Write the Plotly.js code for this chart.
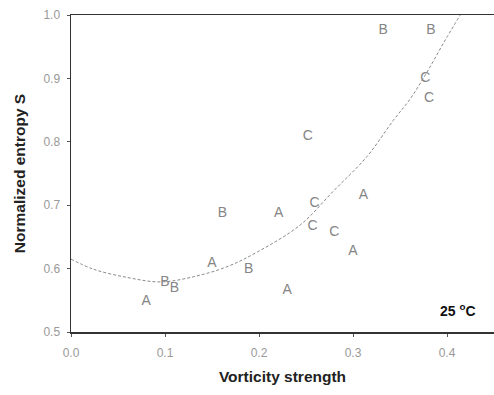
<!DOCTYPE html>
<html>
<head>
<meta charset="utf-8">
<script src="https://cdn.plot.ly/plotly-3.0.1.min.js"></script>
<style>html,body{margin:0;padding:0;background:#fff}#chart{width:494px;height:395px}</style>
</head>
<body>
<div id="chart"></div>
<script>
// Data points (letter labels)
const pointX = [0.080, 0.100, 0.110, 0.150, 0.161, 0.189, 0.221, 0.230, 0.252, 0.259, 0.257, 0.280, 0.300, 0.311, 0.332, 0.383, 0.377, 0.381];
const pointY = [0.548, 0.578, 0.569, 0.608, 0.687, 0.598, 0.687, 0.566, 0.808, 0.703, 0.667, 0.657, 0.627, 0.716, 0.976, 0.976, 0.900, 0.869];
const pointLabel = ["A", "B", "B", "A", "B", "B", "A", "A", "C", "C", "C", "C", "A", "A", "B", "B", "C", "C"];

// Fitted curve
const curveX = [0.000, 0.024, 0.060, 0.095, 0.130, 0.166, 0.198, 0.244, 0.279, 0.315, 0.343, 0.361, 0.378, 0.396, 0.414];
const curveY = [0.615, 0.599, 0.586, 0.579, 0.587, 0.603, 0.626, 0.669, 0.722, 0.777, 0.834, 0.868, 0.908, 0.955, 1.000];

// Axis ticks
const xTickVals = [0.0, 0.1, 0.2, 0.3, 0.4];
const xTickText = ["0.0", "0.1", "0.2", "0.3", "0.4"];
const yTickVals = [0.5, 0.6, 0.7, 0.8, 0.9, 1.0];
const yTickText = ["0.5", "0.6", "0.7", "0.8", "0.9", "1.0"];

const traces = [
  {
    x: curveX, y: curveY, mode: "lines", type: "scatter",
    line: {color: "#8a8a8a", width: 1, dash: "3px,2px", shape: "spline"},
    hoverinfo: "skip"
  },
  {
    x: pointX, y: pointY, mode: "text", type: "scatter",
    text: pointLabel,
    textposition: "middle center",
    textfont: {family: "Arial, Liberation Sans, sans-serif", size: 14, color: "#858585"},
    cliponaxis: false
  }
];

const layout = {
  width: 494, height: 395,
  margin: {l: 70.5, r: 0, t: 15, b: 63},
  paper_bgcolor: "#fff", plot_bgcolor: "#fff",
  showlegend: false,
  font: {family: "Arial, Liberation Sans, sans-serif"},
  xaxis: {
    range: [0, 0.45], showgrid: false, zeroline: false,
    showline: true, linecolor: "#333", linewidth: 1.5, mirror: true,
    ticks: "outside", ticklen: 3, tickcolor: "#555",
    tickvals: xTickVals, ticktext: xTickText,
    ticklabelstandoff: 6,
    tickfont: {size: 12, color: "#999"},
    title: {text: "Vorticity strength", font: {size: 15.5, color: "#222", weight: "bold"}, standoff: 12}
  },
  yaxis: {
    range: [0.5, 1.0], showgrid: false, zeroline: false,
    showline: true, linecolor: "#333", linewidth: 1.5,
    ticks: "outside", ticklen: 3, tickcolor: "#555",
    tickvals: yTickVals, ticktext: yTickText,
    ticklabelstandoff: 4,
    tickfont: {size: 12, color: "#999"},
    title: {text: "Normalized entropy S", font: {size: 15.5, color: "#222", weight: "bold"}, standoff: 14}
  },
  annotations: [
    {xref: "paper", yref: "paper", x: 0.915, y: 0.07, xanchor: "center", yanchor: "middle",
     text: "25 <sup>o</sup>C", showarrow: false,
     font: {size: 14, color: "#111", weight: "bold"}}
  ]
};

Plotly.newPlot("chart", traces, layout, {displayModeBar: false, staticPlot: true});
</script>
</body>
</html>
